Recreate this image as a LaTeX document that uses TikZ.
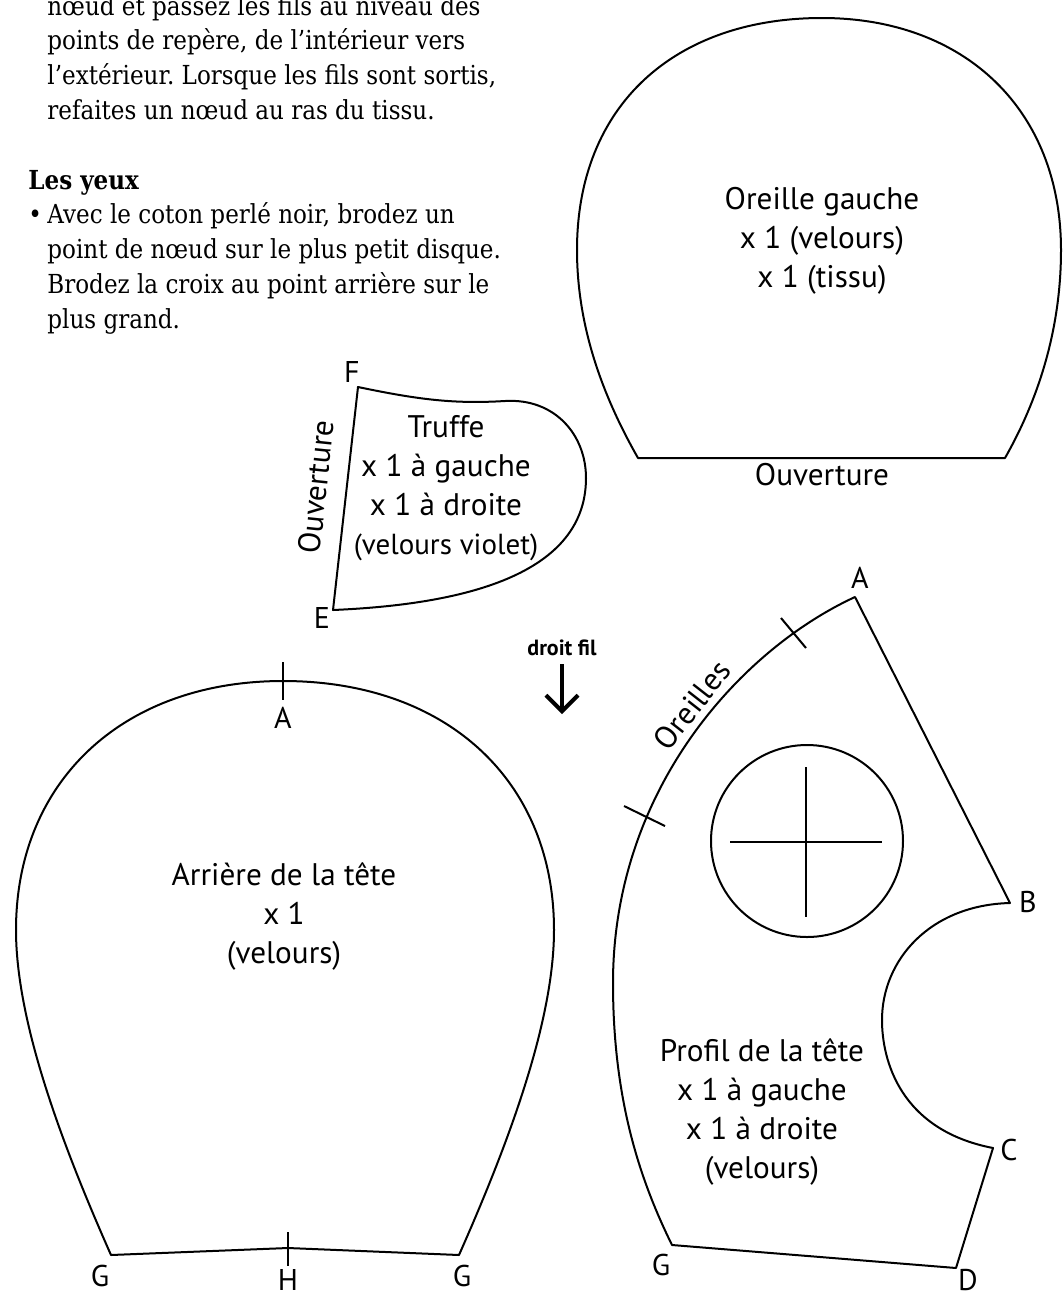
\documentclass[tikz,border=0pt]{standalone}
\usepackage{fontspec}
\setmainfont{DejaVu Serif}[FakeStretch=0.88]
\newfontfamily\patfont{PT Sans}
\usetikzlibrary{arrows.meta}
\frenchspacing

\begin{document}
\begin{tikzpicture}[x=0.5pt,y=-0.5pt,
	patron/.style={line width=1pt,line join=round},
	repere/.style={line width=1pt},
	titre/.style={font=\patfont\fontsize{15.6}{19.5}\selectfont,align=center},
	lettre/.style={font=\patfont\fontsize{15}{18}\selectfont,inner sep=0pt},
	texte/.style={font=\fontsize{13.1}{17.4}\selectfont,anchor=base west,inner sep=0pt}]
	\fill[white] (0,0) rectangle (1063,1297);
	\useasboundingbox (0,0) rectangle (1063,1297);

	% texte en haut a gauche
	\foreach \t [count=\i] in {{n\oe ud et passez les fils au niveau des},
			{points de repère, de l'intérieur vers},
			{l'extérieur. Lorsque les fils sont sortis,},
			{refaites un n\oe ud au ras du tissu.}}{%
			\node[texte] (ligne\i) at (47,{15+(\i-1)*34.8}) {\t};
			}
	\node[texte] (yeux) at (28,189) {\textbf{Les yeux}};
	\node[texte] (puce) at (28,223.8) {\textbullet};
	\foreach \t [count=\i] in {{Avec le coton perlé noir, brodez un},
			{point de n\oe ud sur le plus petit disque.},
			{Brodez la croix au point arrière sur le},
			{plus grand.}}{%
			\node[texte] (item\i) at (47,{223.8+(\i-1)*34.8}) {\t};
			}

	% oreille gauche
	\coordinate (oG) at (638,458);
	\coordinate (oD) at (1005,458);
	\draw[patron] (oG) .. controls (605,400) and (577,330) .. (577,250)
		.. controls (577,105) and (675,18) .. (822,18)
		.. controls (965,18) and (1061,110) .. (1061,250)
		.. controls (1061,330) and (1038,400) .. (oD) -- cycle;
	\node[titre] (oreille) at (822,241) {Oreille gauche\\x 1 (velours)\\x 1 (tissu)};
	\node[titre] (ouvO) at (822,475) {Ouverture};

	% truffe
	\coordinate (tF) at (358,387);
	\coordinate (tE) at (333,610);
	\draw[patron] (tF) .. controls (420,400) and (455,404) .. (505,401)
		.. controls (555,398) and (586,435) .. (586,478)
		.. controls (586,580) and (450,605) .. (tE) -- cycle;
	\node[titre] (truffe) at (446,488) {Truffe\\x 1 à gauche\\x 1 à droite\\{\fontsize{14.5}{19.5}\selectfont(velours violet)}};
	\node[titre,rotate=84] (ouvT) at (316,487) {Ouverture};
	\node[lettre] (lF) at (352,372) {F};
	\node[lettre] (lE) at (322,618) {E};

	% droit fil
	\node[font=\patfont\bfseries\fontsize{11}{13}\selectfont,inner sep=1pt] (fil) at (562,648) {droit fil};
	\coordinate (filbout) at (562,714);
	\draw[line width=2pt,shorten <=3pt,-{Straight Barb[length=8pt,width=16pt]}] (fil) -- (filbout);

	% arriere de la tete
	\coordinate (hA) at (283,681);
	\coordinate (hG) at (111,1255);
	\coordinate (hH) at (288,1248);
	\coordinate (hGd) at (459,1255);
	\draw[patron] (hA) .. controls (123,681) and (16,781) .. (16,930)
		.. controls (16,1020) and (60,1140) .. (hG) -- (hH) -- (hGd)
		.. controls (510,1140) and (554,1020) .. (554,930)
		.. controls (554,781) and (447,681) .. (hA) -- cycle;
	\draw[repere] (283,662) -- (283,700);
	\draw[repere] (288,1232) -- (288,1266);
	\node[titre] (arriere) at (284,916) {Arrière de la tête\\x 1\\(velours)};
	\node[lettre] (lhA) at (283,718) {A};
	\node[lettre] (lhG) at (100,1276) {G};
	\node[lettre] (lhH) at (288,1280) {H};
	\node[lettre] (lhGd) at (462,1276) {G};

	% profil de la tete
	\coordinate (pA) at (855,597);
	\coordinate (pB) at (1010,903);
	\coordinate (pC) at (993,1148);
	\coordinate (pD) at (956,1268);
	\coordinate (pG) at (672,1245);
	\draw[patron] (pA) .. controls (740,650) and (613,790) .. (613,983)
		.. controls (613,1100) and (640,1180) .. (pG) -- (pD) -- (pC)
		.. controls (900,1130) and (882,1060) .. (882,1020)
		.. controls (882,960) and (930,905) .. (pB) -- cycle;
	\draw[repere] (781,618) -- (806,648);
	\draw[repere] (624,806) -- (665,826);
	\draw[patron] (807,841) circle[radius=96];
	\draw[repere] (730,842) -- (882,842);
	\draw[repere] (806,767) -- (806,917);
	\node[titre,rotate=52] (oreilles) at (692,705) {Oreilles};
	\node[titre] (profil) at (762,1112) {Profil de la tête\\x 1 à gauche\\x 1 à droite\\(velours)};
	\node[lettre] (lpA) at (860,578) {A};
	\node[lettre] (lpB) at (1028,902) {B};
	\node[lettre] (lpC) at (1009,1150) {C};
	\node[lettre] (lpD) at (968,1280) {D};
	\node[lettre] (lpG) at (661,1265) {G};
\end{tikzpicture}
\end{document}
